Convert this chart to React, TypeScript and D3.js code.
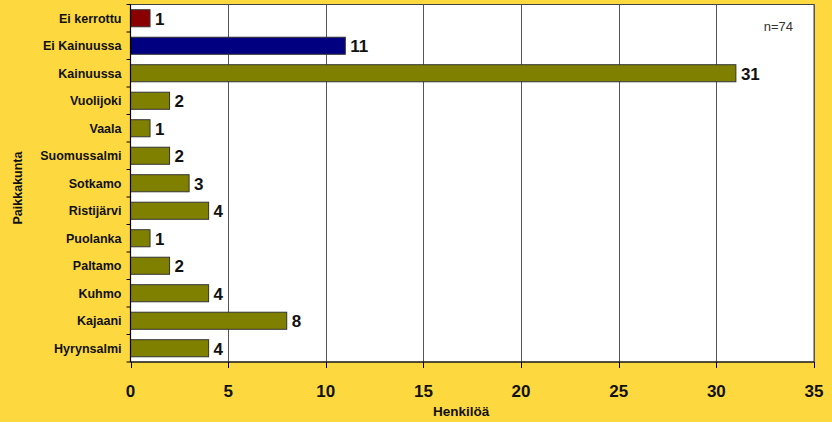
import React from "react";
import * as d3 from "d3";

const categories = ["Ei kerrottu", "Ei Kainuussa", "Kainuussa", "Vuolijoki", "Vaala", "Suomussalmi", "Sotkamo", "Ristijärvi", "Puolanka", "Paltamo", "Kuhmo", "Kajaani", "Hyrynsalmi"];
const values = [1, 11, 31, 2, 1, 2, 3, 4, 1, 2, 4, 8, 4];
const barColors = ["#8B0000", "#000080", "#808000", "#808000", "#808000", "#808000", "#808000", "#808000", "#808000", "#808000", "#808000", "#808000", "#808000"];
const xTicks = [0, 5, 10, 15, 20, 25, 30, 35];
const xTitle = "Henkilöä";
const yTitle = "Paikkakunta";
const note = "n=74";

const W = 832, H = 422;
const L = 130.5, R = 814, T = 4.5, B = 362;
const FONT = "'Liberation Sans', Arial, Helvetica, sans-serif";

export default function App() {
  const x = d3.scaleLinear().domain([0, 35]).range([L, R]);
  const y = d3.scaleBand().domain(categories).range([T, B]).paddingInner(0.38).paddingOuter(0.19);
  const step = y.step();
  const boundaries = d3.range(categories.length + 1).map((i) => T + i * step);
  return (
    <svg width={W} height={H} style={{ position: "absolute", left: 0, top: 0, display: "block" }} fontFamily={FONT}>
      <rect x={0} y={0} width={W} height={H} fill="#FDD93F" />
      <rect x={L} y={T} width={R - L} height={B - T} fill="#FFFFFF" stroke="#444" strokeWidth={1} />
      {xTicks.slice(1).map((t) => (
        <line key={"g" + t} x1={Math.round(x(t)) + 0.5} x2={Math.round(x(t)) + 0.5} y1={T} y2={B} stroke="#555" strokeWidth={1} />
      ))}
      {categories.map((c, i) => (
        <rect key={c} x={x(0)} y={y(c)!} width={x(values[i]) - x(0)} height={y.bandwidth()} fill={barColors[i]} stroke="#333" strokeWidth={1} />
      ))}
      {categories.map((c, i) => (
        <text key={"v" + c} x={x(values[i]) + 5} y={y(c)! + y.bandwidth() / 2 + 6.5} fontSize={17} fontWeight="bold" fill="#111">
          {values[i]}
        </text>
      ))}
      <line x1={L} x2={L} y1={T} y2={B} stroke="#000" strokeWidth={1.2} />
      <line x1={L} x2={R} y1={B} y2={B} stroke="#000" strokeWidth={1.2} />
      {boundaries.map((b, i) => (
        <line key={"yt" + i} x1={L - 4} x2={L} y1={b} y2={b} stroke="#000" strokeWidth={1} />
      ))}
      {xTicks.map((t) => (
        <g key={"xt" + t}>
          <line x1={Math.round(x(t)) + 0.5} x2={Math.round(x(t)) + 0.5} y1={B} y2={B + 6} stroke="#000" strokeWidth={1} />
          <text x={x(t)} y={397} textAnchor="middle" fontSize={17} fontWeight="bold" fill="#111">{t}</text>
        </g>
      ))}
      {categories.map((c) => (
        <text key={"c" + c} x={L - 9} y={y(c)! + y.bandwidth() / 2 + 4.5} textAnchor="end" fontSize={12.5} fontWeight="bold" fill="#111">
          {c}
        </text>
      ))}
      <text x={(L + R) / 2 - 11} y={415.5} textAnchor="middle" fontSize={13.5} fontWeight="bold" fill="#111">{xTitle}</text>
      <text transform={`translate(21.5,188) rotate(-90)`} textAnchor="middle" fontSize={12.5} fontWeight="bold" fill="#111">{yTitle}</text>
      <text x={793} y={31} textAnchor="end" fontSize={13} fill="#333">{note}</text>
    </svg>
  );
}
